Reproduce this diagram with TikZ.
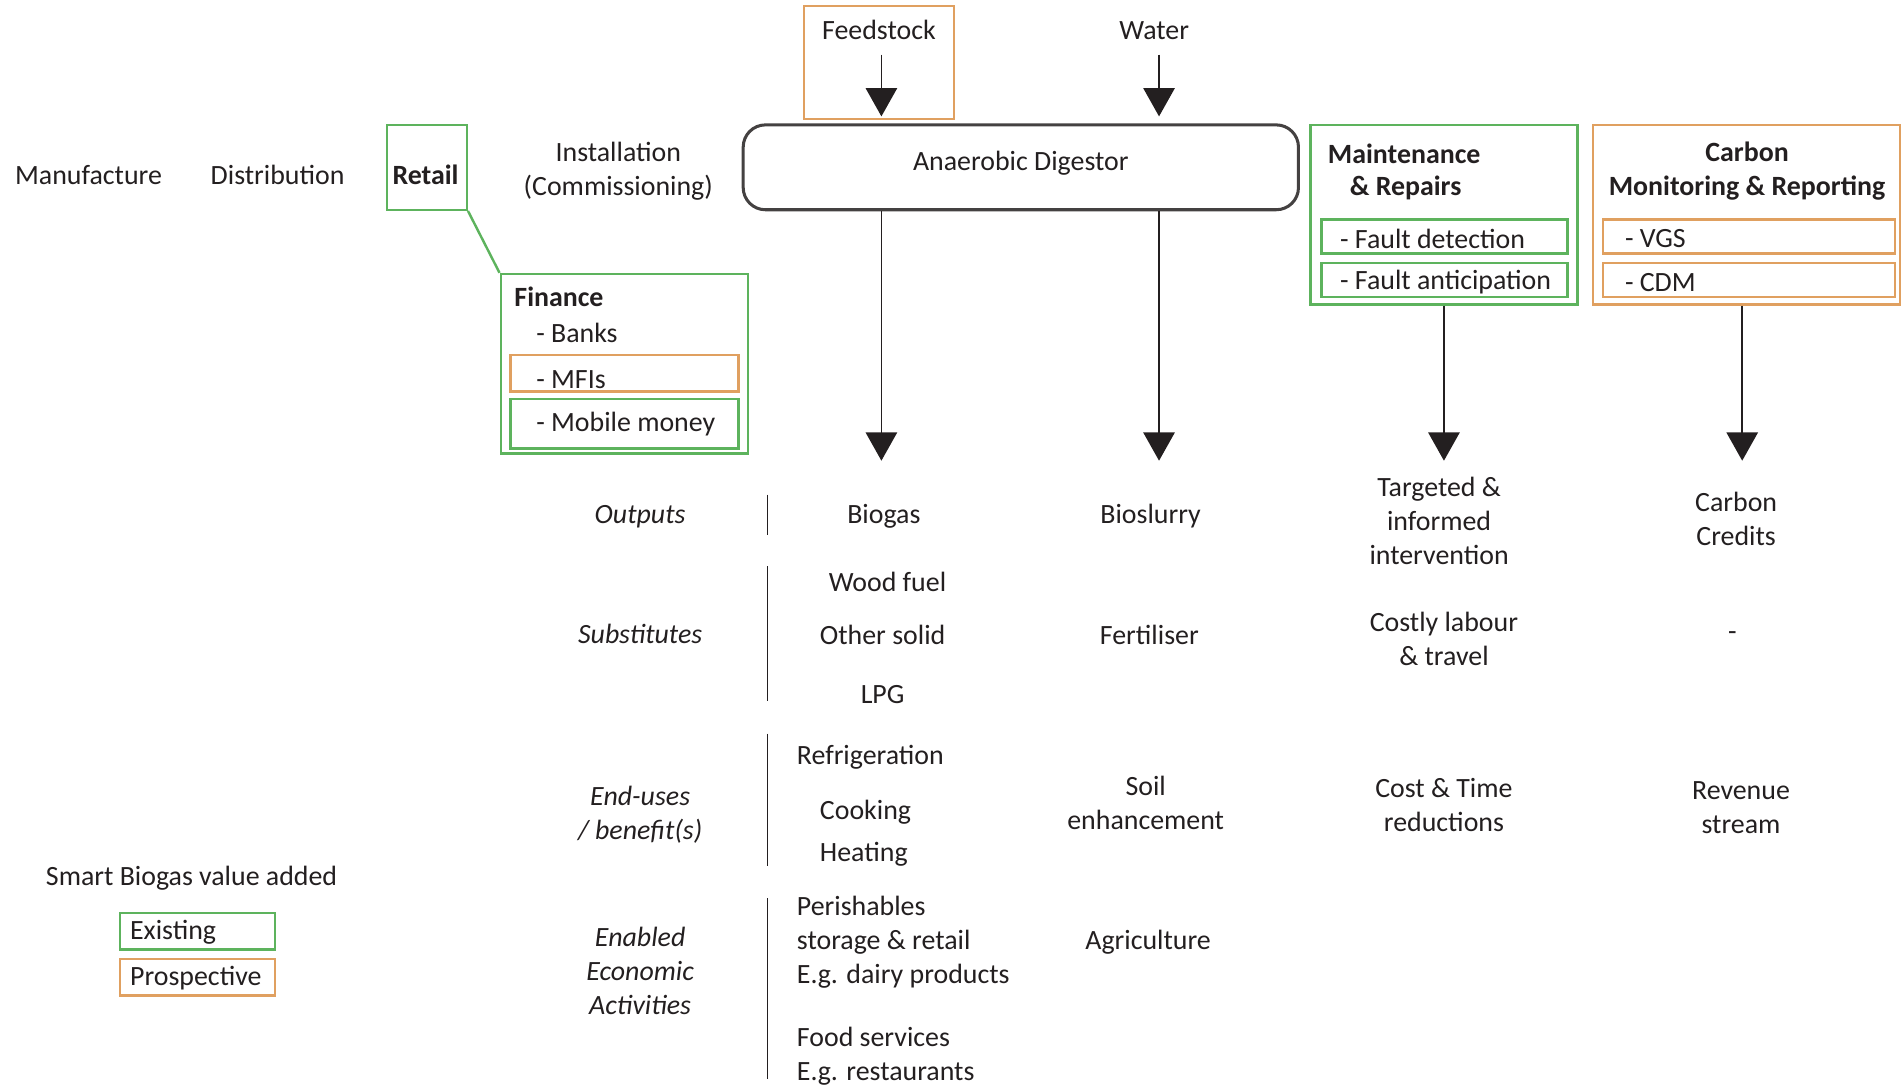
\documentclass[tikz,border=0pt]{standalone}
\usepackage{fontspec}
\setmainfont{Carlito}
\usetikzlibrary{arrows.meta,fit,calc}
\definecolor{grn}{HTML}{5DB35D}
\definecolor{org}{HTML}{E0A060}
\definecolor{txt}{HTML}{231F20}
\begin{document}
\begin{tikzpicture}[x=0.6pt,y=-0.6pt,
  font=\fontsize{13.8}{16.8}\selectfont, text=txt,
  gbox/.style={draw=grn, line width=1.2pt, inner sep=0pt},
  obox/.style={draw=org, line width=1.2pt, inner sep=0pt},
  lbl/.style={inner sep=0pt, align=center, yshift=-1.2pt},
  lft/.style={inner sep=0pt, anchor=west, align=left, yshift=-1.2pt},
  row/.style={inner sep=0pt, align=center, yshift=-1.2pt, font=\fontsize{13.8}{16.8}\selectfont\itshape},
  arr/.style={draw=txt, line width=0.85pt, -{Triangle[width=15.5pt,length=14pt]}},
  sepline/.style={draw=txt, line width=0.9pt}]
\useasboundingbox (0,0) rectangle (1568,896);

% ---- top chain ----
\node[lbl] (manu) at (73,142) {Manufacture};
\node[lbl] (dist) at (229,142) {Distribution};
\node[gbox, fit={(319,103)(385,173)}] (retailbox) {};
\node[lbl, font=\fontsize{13.8}{16.8}\selectfont\bfseries] (retail) at (351,142) {Retail};
\node[lbl] (inst) at (510,139) {Installation\\(Commissioning)};

% ---- finance ----
\node[gbox, fit={(413,226)(617,374)}] (fin) {};
\node[lft, font=\fontsize{13.8}{16.8}\selectfont\bfseries] (fintitle) at (424,243) {Finance};
\node[lft] (banks) at (442,273) {- Banks};
\node[obox, fit={(421,293)(609,323)}] (mfibox) {};
\node[lft] (mfi) at (442,311) {- MFIs};
\node[gbox, fit={(421,329)(609,370)}] (mobbox) {};
\node[lft] (mob) at (442,348) {- Mobile money};
\draw[draw=grn, line width=1.2pt] (retailbox.south east) -- (fin.north west);

% ---- inputs ----
\node[obox, fit={(663,5)(787,98)}] (feedbox) {};
\node[lbl] (feed) at (725,23) {Feedstock};
\node[lbl] (water) at (952,23) {Water};

% ---- digestor ----
\node[draw=txt!85, line width=1.5pt, rounded corners=11pt, inner sep=0pt, fit={(613,103)(1071,173)}] (dig) {};
\node[lbl] (digtxt) at (842,133) {Anaerobic Digestor};

\coordinate (feedA) at (727,45);
\coordinate (feedB) at (727,96);
\coordinate (waterA) at (956,45);
\coordinate (waterB) at (956,96);
\draw[arr] (feedA) -- (feedB);
\draw[arr] (waterA) -- (waterB);

% ---- maintenance ----
\node[gbox, fit={(1081,103)(1301,251)}] (maint) {};
\node[lft, font=\fontsize{13.8}{16.8}\selectfont\bfseries] (mt1) at (1095,125) {Maintenance};
\node[lft, font=\fontsize{13.8}{16.8}\selectfont\bfseries] (mt2) at (1113,153) {\& Repairs};
\node[gbox, fit={(1090,181)(1293,209)}] (fdbox) {};
\node[lft] (fd) at (1105,195) {- Fault detection};
\node[gbox, fit={(1090,217)(1293,245)}] (fabox) {};
\node[lft] (fa) at (1105,231) {- Fault anticipation};

% ---- carbon ----
\node[obox, fit={(1314,103)(1567,251)}] (carb) {};
\node[lbl, font=\fontsize{13.8}{16.8}\selectfont\bfseries] (ct) at (1441,139) {Carbon\\Monitoring \& Reporting};
\node[obox, fit={(1322,181)(1563,209)}] (vgsbox) {};
\node[lft] (vgs) at (1340,195) {- VGS};
\node[obox, fit={(1322,217)(1563,245)}] (cdmbox) {};
\node[lft] (cdm) at (1340,231) {- CDM};

% ---- vertical arrows ----
\coordinate (bgEnd) at (727,380);
\coordinate (bsEnd) at (956,380);
\coordinate (mtEnd) at (1191,380);
\coordinate (crEnd) at (1437,380);
\draw[arr] (dig.south -| bgEnd) -- (bgEnd);
\draw[arr] (dig.south -| bsEnd) -- (bsEnd);
\draw[arr] (maint.south -| mtEnd) -- (mtEnd);
\draw[arr] (carb.south -| crEnd) -- (crEnd);

% ---- row labels ----
\node[row] (rOut) at (528,424) {Outputs};
\node[row] (rSub) at (528,521) {Substitutes};
\node[row] (rEnd) at (528,670) {End-uses\\/ benefit(s)};
\node[row] (rEco) at (528,799) {Enabled\\Economic\\Activities};

\draw[sepline] (633,408) -- (633,441);
\draw[sepline] (633,467) -- (633,578);
\draw[sepline] (633,605) -- (633,714);
\draw[sepline] (633,741) -- (633,890);

% ---- biogas column ----
\node[lbl] (biogas) at (729,424) {Biogas};
\node[lbl] (wood) at (732,478) {Wood fuel};
\node[lbl] (osolid) at (728,522) {Other solid};
\node[lbl] (lpg) at (728,571) {LPG};
\node[lft] (refr) at (657,623) {Refrigeration};
\node[lft] (cook) at (676,668) {Cooking};
\node[lft] (heat) at (676,703) {Heating};
\node[lft] (peri) at (657,775) {Perishables\\storage \& retail\\E.g. dairy products};
\node[lft] (food) at (657,869) {Food services\\E.g. restaurants};

% ---- bioslurry column ----
\node[lbl] (bios) at (949,424) {Bioslurry};
\node[lbl] (fert) at (948,522) {Fertiliser};
\node[lbl] (soil) at (945,660) {Soil\\enhancement};
\node[lbl] (agri) at (947,775) {Agriculture};

% ---- maintenance column ----
\node[lbl] (targ) at (1187,428) {Targeted \&\\informed\\intervention};
\node[lbl] (costly) at (1191,525) {Costly labour\\\& travel};
\node[lbl] (ctime) at (1191,662) {Cost \& Time\\reductions};

% ---- carbon column ----
\node[lbl] (ccred) at (1432,426) {Carbon\\Credits};
\node[lbl] (dash) at (1429,523) {-};
\node[lbl] (rev) at (1436,664) {Revenue\\stream};

% ---- legend ----
\node[lbl] (legt) at (158,722) {Smart Biogas value added};
\node[gbox, fit={(99,753)(227,783)}] (exbox) {};
\node[lft] (ex) at (107,767) {Existing};
\node[obox, fit={(99,791)(227,821)}] (prbox) {};
\node[lft] (pr) at (107,805) {Prospective};
\end{tikzpicture}
\end{document}
